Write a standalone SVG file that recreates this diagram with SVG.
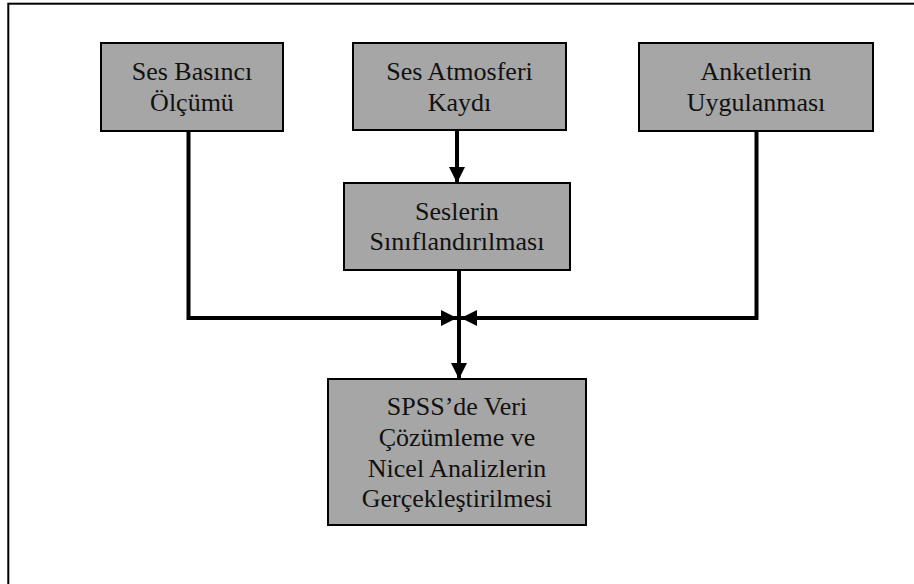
<svg xmlns="http://www.w3.org/2000/svg" width="914" height="584" viewBox="0 0 914 584">
  <style>
    .box { fill: #a6a6a6; stroke: #000; stroke-width: 2; }
    .lbl { font-family: "Liberation Serif", "Times New Roman", serif; font-size: 26px; fill: #111; text-anchor: middle; }
    .conn { fill: none; stroke: #000; stroke-width: 4; }
  </style>
  <defs>
    <marker id="ah" markerUnits="userSpaceOnUse" markerWidth="16" markerHeight="16" viewBox="0 0 16 16" refX="16" refY="8" orient="auto">
      <path d="M0,0 L16,8 L0,16 Z" fill="#000"/>
    </marker>
  </defs>
  <rect x="8.3" y="3.7" width="1000" height="1000" fill="#fff" stroke="#000" stroke-width="2"/>

  <g id="connectors">
    <path class="conn" d="M188.5,131 V318 H457" marker-end="url(#ah)"/>
    <path class="conn" d="M756.5,131 V318 H461" marker-end="url(#ah)"/>
    <path class="conn" d="M457,130 V183" marker-end="url(#ah)"/>
    <path class="conn" d="M459,270 V379" marker-end="url(#ah)"/>
  </g>

  <g id="n1">
    <rect class="box" x="101" y="43" width="182" height="88"/>
    <text class="lbl" x="192" y="80">Ses Basıncı</text>
    <text class="lbl" x="192" y="110.5">Ölçümü</text>
  </g>
  <g id="n2">
    <rect class="box" x="353" y="43" width="213" height="87"/>
    <text class="lbl" x="459.5" y="80">Ses Atmosferi</text>
    <text class="lbl" x="459.5" y="110.5">Kaydı</text>
  </g>
  <g id="n3">
    <rect class="box" x="639" y="43" width="234" height="88"/>
    <text class="lbl" x="756" y="80">Anketlerin</text>
    <text class="lbl" x="756" y="110.5">Uygulanması</text>
  </g>
  <g id="n4">
    <rect class="box" x="344" y="183" width="226" height="87"/>
    <text class="lbl" x="457" y="219.5">Seslerin</text>
    <text class="lbl" x="457" y="250">Sınıflandırılması</text>
  </g>
  <g id="n5">
    <rect class="box" x="328" y="379" width="258" height="146"/>
    <text class="lbl" x="457" y="415">SPSS’de Veri</text>
    <text class="lbl" x="457" y="446">Çözümleme ve</text>
    <text class="lbl" x="457" y="476.5">Nicel Analizlerin</text>
    <text class="lbl" x="457" y="507">Gerçekleştirilmesi</text>
  </g>
</svg>
